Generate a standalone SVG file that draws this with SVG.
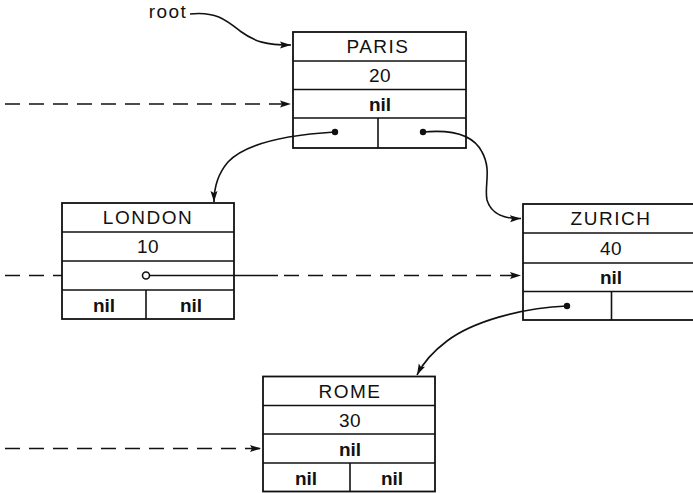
<svg xmlns="http://www.w3.org/2000/svg" width="693" height="493" viewBox="0 0 693 493">
<style>
.box{fill:#fff;stroke:#111;stroke-width:1.8}
.ln{stroke:#111;stroke-width:1.6;fill:none}
.t{font-family:"Liberation Sans",Arial,sans-serif;font-size:19px;fill:#111;text-anchor:middle;letter-spacing:1.5px}
.num{letter-spacing:0.5px}
.n{font-weight:bold;letter-spacing:0}
.c{stroke:#111;stroke-width:1.6;fill:none}
.d{stroke-dasharray:15 9}
.dot{fill:#111}
.oc{fill:#fff;stroke:#111;stroke-width:1.6}
</style>
<defs>
<marker id="ah" markerUnits="userSpaceOnUse" markerWidth="12" markerHeight="8" refX="11" refY="4" orient="auto">
<path d="M0,0.5 L11,4 L0,7.5 L2,4 z" fill="#111" stroke="none"/>
</marker>
</defs>

<text class="t" x="168" y="18">root</text>

<g id="paris">
<rect class="box" x="293" y="32" width="173" height="116"/>
<line class="ln" x1="293" y1="61" x2="466" y2="61"/>
<line class="ln" x1="293" y1="89.5" x2="466" y2="89.5"/>
<line class="ln" x1="293" y1="118" x2="466" y2="118"/>
<line class="ln" x1="378" y1="118" x2="378" y2="148"/>
<text class="t" x="378" y="53">PARIS</text>
<text class="t num" x="380" y="82">20</text>
<text class="t n" x="380" y="111">nil</text>
<circle class="dot" cx="335" cy="132" r="3.2"/>
<circle class="dot" cx="423" cy="132" r="3.2"/>
</g>

<g id="london">
<rect class="box" x="62" y="203" width="172" height="116"/>
<line class="ln" x1="62" y1="232" x2="234" y2="232"/>
<line class="ln" x1="62" y1="261" x2="234" y2="261"/>
<line class="ln" x1="62" y1="290" x2="234" y2="290"/>
<line class="ln" x1="146" y1="290" x2="146" y2="319"/>
<text class="t" x="148" y="224">LONDON</text>
<text class="t num" x="148" y="253">10</text>
<text class="t n" x="104" y="312">nil</text>
<text class="t n" x="191" y="312">nil</text>
<circle class="oc" cx="146" cy="275.5" r="3.5"/>
</g>

<g id="zurich">
<rect class="box" x="523" y="204" width="173" height="116"/>
<line class="ln" x1="523" y1="233" x2="696" y2="233"/>
<line class="ln" x1="523" y1="263" x2="696" y2="263"/>
<line class="ln" x1="523" y1="291.5" x2="696" y2="291.5"/>
<line class="ln" x1="611.5" y1="291.5" x2="611.5" y2="320"/>
<text class="t" x="611" y="225">ZURICH</text>
<text class="t num" x="611" y="255">40</text>
<text class="t n" x="611" y="284">nil</text>
<circle class="dot" cx="567" cy="306" r="3.2"/>
</g>

<g id="rome">
<rect class="box" x="263" y="376.5" width="172" height="115"/>
<line class="ln" x1="263" y1="405.5" x2="435" y2="405.5"/>
<line class="ln" x1="263" y1="434" x2="435" y2="434"/>
<line class="ln" x1="263" y1="463" x2="435" y2="463"/>
<line class="ln" x1="350" y1="463" x2="350" y2="491.5"/>
<text class="t" x="350" y="398">ROME</text>
<text class="t num" x="350" y="427">30</text>
<text class="t n" x="350" y="456">nil</text>
<text class="t n" x="306" y="485">nil</text>
<text class="t n" x="392" y="485">nil</text>
</g>

<g id="connectors">
<path class="c" d="M190,14 C215,11 226,20 240,31 C255,42 266,45 291,45" marker-end="url(#ah)"/>
<line class="c d" x1="5" y1="104" x2="291" y2="104" marker-end="url(#ah)"/>
<path class="c" d="M335,132 C285,135 245,144 228,162 C216,176 214,190 214,202" marker-end="url(#ah)"/>
<path class="c" d="M423,132 C455,129 474,136 482,152 C492,170 484,186 487,200 C491,214 505,219 521,218.5" marker-end="url(#ah)"/>
<line class="c d" x1="5" y1="275.5" x2="62" y2="275.5"/>
<line class="c" x1="149.5" y1="275.5" x2="278" y2="275.5"/>
<line class="c d" x1="284" y1="275.5" x2="521" y2="275.5" marker-end="url(#ah)"/>
<path class="c" d="M567,306 C520,308 472,322 447,341 C431,353 422,365 417,375" marker-end="url(#ah)"/>
<line class="c d" x1="5" y1="448.5" x2="261" y2="448.5" marker-end="url(#ah)"/>
</g>
</svg>
